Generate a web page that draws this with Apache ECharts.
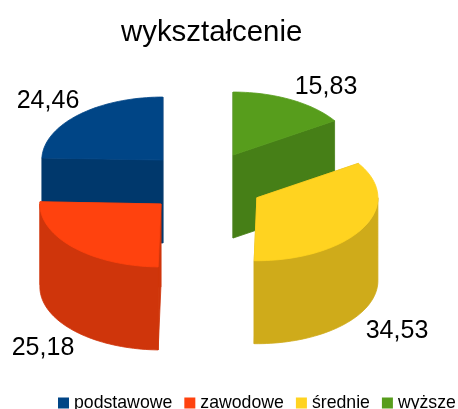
<!DOCTYPE html>
<html>
<head>
<meta charset="utf-8">
<style>
    html, body { margin: 0; padding: 0; background: #fff; }
    #chart { width: 458px; height: 409px; }
</style>
</head>
<body>
<div id="chart"></div>
<script src="https://cdn.jsdelivr.net/npm/echarts@6/dist/echarts.min.js"></script>
<script>
const CATEGORIES = ['podstawowe', 'zawodowe', 'średnie', 'wyższe'];
const VALUES = [24.46, 25.18, 34.53, 15.83];
const TOP_COLORS = ['#004586', '#ff420e', '#ffd320', '#579d1c'];
const SIDE_COLORS = ['#00386c', '#cf350b', '#cfab1a', '#467f17'];

// pie projection, in pixels
const PIE = { cx: 204.5, cy: 182.5, rx: 121, ry: 63, depth: 83, explode: 60 };
const LABEL_POS = [[48, 101], [43, 348], [397, 331], [326, 87]];
const Z_ORDER = [2, 3, 3, 1];

const total = VALUES.reduce((a, b) => a + b, 0);

// angle grows counterclockwise from 12 o'clock
function rimPoint(c, deg, dy) {
    const a = deg * Math.PI / 180;
    return [c[0] - PIE.rx * Math.sin(a), c[1] - PIE.ry * Math.cos(a) + (dy || 0)];
}

function arcPoints(c, from, to, dy) {
    const pts = [];
    const steps = Math.max(2, Math.ceil(Math.abs(to - from) / 2));
    for (let i = 0; i <= steps; i++) {
        pts.push(rimPoint(c, from + (to - from) * i / steps, dy));
    }
    return pts;
}

function polygon(points, color) {
    return {
        type: 'polygon',
        shape: { points: points },
        style: { fill: color, stroke: color, lineWidth: 0.8 }
    };
}

function cutFace(c, deg, color) {
    const p = rimPoint(c, deg);
    return polygon([c, p, [p[0], p[1] + PIE.depth], [c[0], c[1] + PIE.depth]], color);
}

function makeRenderItem(index) {
    const start = VALUES.slice(0, index).reduce((a, b) => a + b, 0) / total * 360;
    return function (params, api) {
        const end = start + api.value(0) / total * 360;
        const mid = (start + end) / 2 * Math.PI / 180;
        const c = [
            PIE.cx - PIE.explode * Math.sin(mid),
            PIE.cy - PIE.explode * (PIE.ry / PIE.rx) * Math.cos(mid)
        ];
        const children = [
            cutFace(c, start, SIDE_COLORS[index]),
            cutFace(c, end, SIDE_COLORS[index])
        ];
        // the outer wall only shows on the front half
        const wallFrom = Math.max(start, 90);
        const wallTo = Math.min(end, 270);
        if (wallTo > wallFrom) {
            const upper = arcPoints(c, wallFrom, wallTo, 0);
            const lower = arcPoints(c, wallFrom, wallTo, PIE.depth).reverse();
            children.push(polygon(upper.concat(lower), SIDE_COLORS[index]));
        }
        children.push(polygon([c].concat(arcPoints(c, start, end, 0)), TOP_COLORS[index]));
        children.push({
            type: 'text',
            style: {
                text: api.value(0).toFixed(2).replace('.', ','),
                x: LABEL_POS[index][0],
                y: LABEL_POS[index][1],
                fill: '#000',
                font: '25px "Liberation Sans"',
                align: 'center',
                verticalAlign: 'middle'
            }
        });
        return { type: 'group', children: children };
    };
}

const chart = echarts.init(document.getElementById('chart'));

chart.setOption({
    animation: false,
    title: {
        text: 'wykształcenie',
        left: 116,
        top: 13,
        textStyle: { fontFamily: 'Liberation Sans', fontSize: 29.4, fontWeight: 'normal', color: '#000' }
    },
    legend: {
        data: CATEGORIES,
        left: 58,
        top: 394,
        icon: 'rect',
        itemWidth: 11,
        itemHeight: 11,
        itemGap: 12,
        padding: 0,
        textStyle: { fontFamily: 'Liberation Sans', fontSize: 17.7, color: '#000' },
        selectedMode: false
    },
    series: CATEGORIES.map((name, i) => ({
        type: 'custom',
        name: name,
        coordinateSystem: 'none',
        z: Z_ORDER[i],
        itemStyle: { color: TOP_COLORS[i] },
        renderItem: makeRenderItem(i),
        data: [[VALUES[i]]]
    }))
});
</script>
</body>
</html>
